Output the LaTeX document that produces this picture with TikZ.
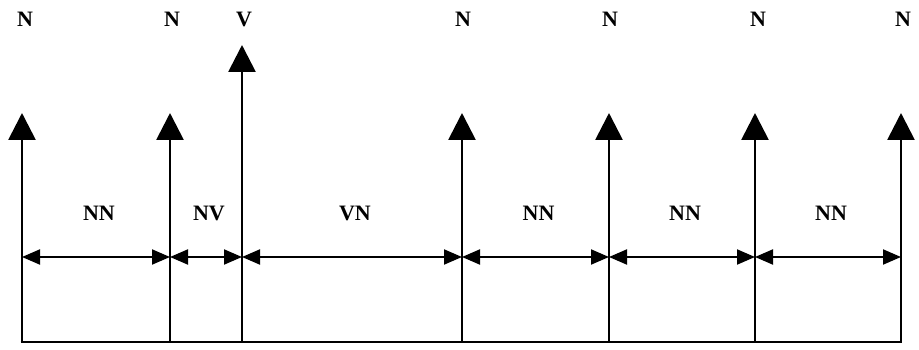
\documentclass[tikz,border=0pt]{standalone}
\usepackage{fontspec}
\setmainfont{Liberation Serif}
\usetikzlibrary{arrows.meta}

\begin{document}
\begin{tikzpicture}[x=1pt, y=-1pt, line width=2.8pt,
    every node/.style={font=\fontsize{22}{24}\selectfont\bfseries, inner sep=0pt},
    up/.style={-{Triangle[length=27pt, width=27pt]}},
    span/.style={{Triangle[length=18pt, width=15pt]}-{Triangle[length=18pt, width=15pt]}, line width=2pt},
    spanlabel/.style={midway, xshift=3pt, yshift=44pt}]
    \useasboundingbox (0, 0) rectangle (919, 350);

    % words on the base line
    \coordinate (w1) at (22, 342);
    \coordinate (w2) at (170, 342);
    \coordinate (w3) at (242, 342);
    \coordinate (w4) at (462, 342);
    \coordinate (w5) at (609, 342);
    \coordinate (w6) at (755, 342);
    \coordinate (w7) at (901, 342);
    \draw ([xshift=-1.4pt]w1) -- ([xshift=1.4pt]w7);

    \draw[up] (w1) -- ++(0, -229) coordinate(t1);
    \draw[up] (w2) -- ++(0, -229) coordinate(t2);
    \draw[up] (w3) -- ++(0, -297) coordinate(t3);
    \draw[up] (w4) -- ++(0, -229) coordinate(t4);
    \draw[up] (w5) -- ++(0, -229) coordinate(t5);
    \draw[up] (w6) -- ++(0, -229) coordinate(t6);
    \draw[up] (w7) -- ++(0, -229) coordinate(t7);

    \node(n1) at (25, 19) {N};
    \node(n2) at (172, 19) {N};
    \node(v3) at (244, 19) {V};
    \node(n4) at (463, 19) {N};
    \node(n5) at (610, 19) {N};
    \node(n6) at (758, 19) {N};
    \node(n7) at (903, 19) {N};

    % spans between neighbouring words
    \coordinate (h1) at (22, 257);
    \coordinate (h2) at (170, 257);
    \coordinate (h3) at (242, 257);
    \coordinate (h4) at (462, 257);
    \coordinate (h5) at (609, 257);
    \coordinate (h6) at (755, 257);
    \coordinate (h7) at (901, 257);
    \draw[span] (h1) -- (h2) node[spanlabel](nn12) {NN};
    \draw[span] (h2) -- (h3) node[spanlabel](nv23) {NV};
    \draw[span] (h3) -- (h4) node[spanlabel](vn34) {VN};
    \draw[span] (h4) -- (h5) node[spanlabel](nn45) {NN};
    \draw[span] (h5) -- (h6) node[spanlabel](nn56) {NN};
    \draw[span] (h6) -- (h7) node[spanlabel](nn67) {NN};
\end{tikzpicture}
\end{document}
